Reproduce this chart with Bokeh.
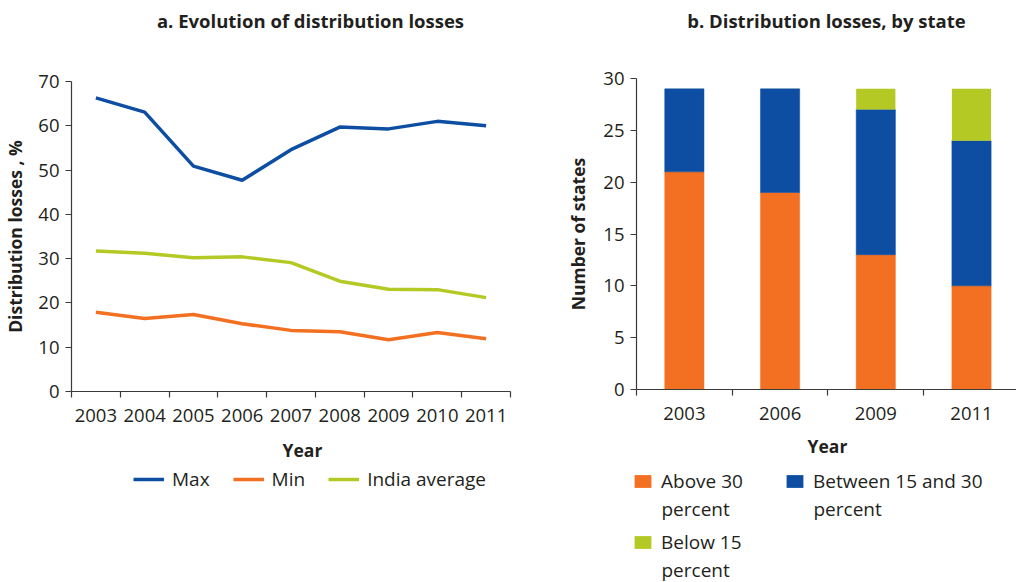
import numpy as np
from bokeh.plotting import figure
from bokeh.models import (ColumnDataSource, FixedTicker, Legend, LegendItem,
                          Label, Range1d)
from bokeh.layouts import row, column
from bokeh.embed import file_html
from bokeh.resources import INLINE

# ---- data -------------------------------------------------------------
years = ["2003", "2004", "2005", "2006", "2007", "2008", "2009", "2010", "2011"]
max_loss = [66.3, 63.1, 50.9, 47.7, 54.6, 59.7, 59.3, 61.0, 60.0]
min_loss = [17.9, 16.5, 17.4, 15.3, 13.8, 13.5, 11.7, 13.3, 11.9]
india_avg = [31.7, 31.2, 30.2, 30.4, 29.1, 24.9, 23.1, 23.0, 21.2]

bar_years = ["2003", "2006", "2009", "2011"]
above_30 = [21, 19, 13, 10]
between_15_30 = [8, 10, 14, 14]
below_15 = [0, 0, 2, 5]

bar_keys = ["Above 30", "Between 15 and 30", "Below 15"]

BLUE = "#0D4EA2"
ORANGE = "#F37022"
GREEN = "#B5C925"
TEXT = "#231F20"
AXIS = "#3A3A3A"
FONT = "Open Sans"

HEIGHT = 582
LEFT_W, RIGHT_W = 560, 456


def blank(width, height):
    """A figure with no axes whose frame fills the whole canvas."""
    f = figure(width=width, height=height, x_range=Range1d(0, 1),
               y_range=Range1d(0, 1), output_backend="svg",
               toolbar_location=None, x_axis_location=None,
               y_axis_location=None, min_border=0)
    f.outline_line_color = None
    f.xgrid.grid_line_color = None
    f.ygrid.grid_line_color = None
    return f


def text_label(f, x, y, text, size="17.5px", bold=True, align="center"):
    f.add_layout(Label(x=x, y=y, x_units="screen", y_units="screen", text=text,
                       text_font=FONT, text_font_size=size,
                       text_font_style="bold" if bold else "normal",
                       text_color=TEXT, text_align=align,
                       text_baseline="middle"))


def style_axes(p):
    p.outline_line_color = None
    p.xgrid.grid_line_color = None
    p.ygrid.grid_line_color = None
    for ax in (p.xaxis[0], p.yaxis[0]):
        ax.axis_line_color = AXIS
        ax.axis_line_width = 1.2
        ax.major_tick_line_color = AXIS
        ax.minor_tick_line_color = AXIS
        ax.major_tick_line_width = 1.2
        ax.minor_tick_line_width = 1.2
        ax.major_label_text_font = FONT
        ax.major_label_text_font_size = "18.5px"
        ax.major_label_text_color = TEXT
        ax.axis_label_text_font = FONT
        ax.axis_label_text_font_size = "17.5px"
        ax.axis_label_text_font_style = "bold"
        ax.axis_label_text_color = TEXT
        ax.major_label_standoff = 6


def category_x_axis(p, labels):
    centers = [i + 0.5 for i in range(len(labels))]
    ax = p.xaxis[0]
    ax.ticker = FixedTicker(ticks=centers,
                            minor_ticks=list(range(len(labels) + 1)))
    ax.major_label_overrides = {c: lab for c, lab in zip(centers, labels)}
    ax.major_tick_in = 0
    ax.major_tick_out = 0
    ax.minor_tick_in = 0
    ax.minor_tick_out = 6
    ax.major_label_standoff = 11
    return centers


def key_legend(f, renderer, label, x, y):
    f.add_layout(Legend(items=[LegendItem(label=label, renderers=[renderer])],
                        location=(x, y), glyph_width=21, glyph_height=16,
                        label_standoff=8, label_text_font=FONT,
                        label_text_font_size="19px", label_text_color=TEXT,
                        border_line_color=None, background_fill_alpha=0,
                        padding=0, margin=0))


# ---- panel a: line chart ---------------------------------------------
TOP_A, MID_A = 60, 372
p1 = figure(width=LEFT_W, height=MID_A, x_range=Range1d(0, 9),
            y_range=Range1d(0, 70), output_backend="svg", toolbar_location=None,
            min_border_left=68, min_border_right=50,
            min_border_top=21, min_border_bottom=41)
style_axes(p1)
xc = category_x_axis(p1, years)
p1.yaxis[0].ticker = FixedTicker(ticks=list(range(0, 71, 10)))
p1.yaxis[0].major_tick_in = 0
p1.yaxis[0].major_tick_out = 6
p1.yaxis[0].axis_label = "Distribution losses , %"
p1.yaxis[0].axis_label_standoff = 8

line_src = ColumnDataSource(dict(x=xc, mx=max_loss, mn=min_loss, avg=india_avg))
p1.line("x", "mx", source=line_src, line_color=BLUE, line_width=3.5)
p1.line("x", "mn", source=line_src, line_color=ORANGE, line_width=3.5)
p1.line("x", "avg", source=line_src, line_color=GREEN, line_width=3.5)

t1 = blank(LEFT_W, TOP_A)
text_label(t1, 310, TOP_A - 20, "a. Evolution of distribution losses",
           size="18.5px")

# legend keys only: each key renderer holds a single empty (NaN) row
key_src = ColumnDataSource(dict(x=np.array([np.nan]), y=np.array([np.nan])))

l1 = blank(LEFT_W, HEIGHT - TOP_A - MID_A)
text_label(l1, 302, 133, "Year")
k_max = l1.line("x", "y", source=key_src, line_color=BLUE, line_width=3.5)
k_min = l1.line("x", "y", source=key_src, line_color=ORANGE, line_width=3.5)
k_avg = l1.line("x", "y", source=key_src, line_color=GREEN, line_width=3.5)
l1.add_layout(Legend(items=[LegendItem(label="Max", renderers=[k_max]),
                            LegendItem(label="Min", renderers=[k_min]),
                            LegendItem(label="India average", renderers=[k_avg])],
                     orientation="horizontal", location=(133, 90),
                     glyph_width=31, glyph_height=18, label_standoff=8,
                     spacing=23, label_text_font=FONT,
                     label_text_font_size="19px", label_text_color=TEXT,
                     border_line_color=None, background_fill_alpha=0,
                     padding=0, margin=0))

# ---- panel b: stacked bars -------------------------------------------
TOP_B, MID_B = 57, 373
p2 = figure(width=RIGHT_W, height=MID_B, x_range=Range1d(0, 3.97),
            y_range=Range1d(0, 30), output_backend="svg", toolbar_location=None,
            min_border_left=76, min_border_right=0,
            min_border_top=21, min_border_bottom=41)
style_axes(p2)
bc = category_x_axis(p2, bar_years)
p2.yaxis[0].ticker = FixedTicker(ticks=list(range(0, 31, 5)))
p2.yaxis[0].major_tick_in = 0
p2.yaxis[0].major_tick_out = 6
p2.yaxis[0].axis_label = "Number of states"
p2.yaxis[0].axis_label_standoff = 10

bar_src = ColumnDataSource(dict(x=bc, above=above_30, between=between_15_30,
                                below=below_15))
p2.vbar_stack(["above", "between", "below"], x="x", width=0.41,
              source=bar_src, fill_color=[ORANGE, BLUE, GREEN],
              line_color=[ORANGE, BLUE, None], line_width=0.5)

t2 = blank(RIGHT_W, TOP_B)
text_label(t2, 266, TOP_B - 20, "b. Distribution losses, by state",
           size="18.5px")

l2 = blank(RIGHT_W, HEIGHT - TOP_B - MID_B)
text_label(l2, 267, 137, "Year")
swatches = [l2.vbar(x="x", top="y", width=1, source=key_src,
                    fill_color=c, line_color=None)
            for c in (ORANGE, BLUE, GREEN)]
# key text wraps onto a second line ("percent")
key_pos = [(72, 88), (224, 88), (72, 27)]
for r, lab, (kx, ky) in zip(swatches, bar_keys, key_pos):
    key_legend(l2, r, lab, kx, ky)
    text_label(l2, kx + 29, ky - 14, "percent", size="19px", bold=False,
               align="left")

# each panel sits in its own row so that the title and key strips keep
# their full canvas width
layout = row(column(t1, row(p1), l1), column(t2, row(p2), l2))
open("out.html", "w").write(file_html(layout, INLINE))
